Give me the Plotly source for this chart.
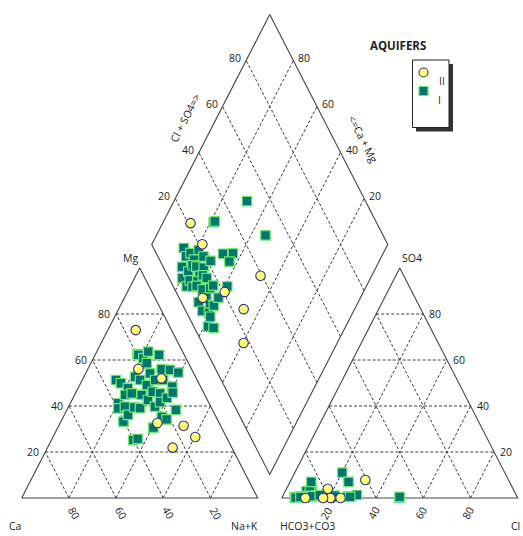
import plotly.graph_objects as go

# ---- sample chemistry (meq %) -------------------------------------------
# Aquifer I
mg_I = [51.3, 49.9, 62.6, 62.2, 41.2, 47.8, 60.7, 44.8, 39.0, 52.7, 63.6, 58.6, 45.5, 39.7,
        51.3, 33.2, 36.1, 62.2, 54.2, 39.4, 44.8, 49.1, 39.1, 51.3, 56.0, 42.6, 46.2, 51.3,
        25.2, 55.7, 45.5, 25.7, 39.7, 41.7, 54.5, 48.4, 43.5, 30.6, 45.8, 35.3, 34.2, 38.3]
nak_I = [14.3, 17.1, 17.7, 18.3, 20.3, 21.1, 21.2, 21.4, 21.4, 21.7, 21.8, 23.7, 23.9, 23.9,
         24.5, 26.5, 27.0, 27.1, 27.3, 28.0, 28.4, 28.5, 30.6, 30.9, 31.3, 32.2, 32.4, 34.3,
         34.7, 35.0, 35.9, 36.3, 36.6, 37.8, 39.1, 39.6, 39.8, 40.5, 41.1, 41.7, 44.3, 46.2]
so4_I = [1.0, 3.0, 0.5, 3.5, 0.3, 1.0, 0.8, 11.0, 0.5, 7.0, 1.2, 3.2, 0.2, 0.6,
         1.5, 0.4, 3.0, 1.0, 0.8, 0.5, 1.0, 0.8, 7.0, 0.0, 0.5, 0.6, 0.3, 1.0,
         0.5, 0.8, 0.2, 1.3, 0.5, 0.6, 0.3, 0.8, 1.2, 0.4, 1.0, 0.2, 0.4, 0.5]
cl_I = [11.8, 9.0, 7.5, 11.1, 5.4, 17.7, 13.8, 20.1, 9.1, 24.8, 11.6, 10.9, 5.5, 7.7,
        17.8, 7.7, 10.4, 16.0, 10.6, 9.5, 14.0, 20.6, 9.0, 49.8, 11.3, 27.6, 7.0, 14.2,
        11.1, 16.3, 6.8, 31.2, 28.7, 11.0, 9.1, 12.2, 15.5, 8.7, 21.9, 5.8, 7.7, 49.7]

# Aquifer II
mg_II = [73.0, 56.1, 52.0, 32.6, 31.4, 21.9, 26.5]
nak_II = [11.8, 21.4, 33.2, 41.2, 52.9, 53.0, 60.3]
so4_II = [0.0, 4.0, 0.0, 0.0, 7.8, 0.0, 0.0]
cl_II = [21.1, 17.5, 10.0, 20.6, 31.5, 24.9, 17.5]

GRID = [20, 40, 60, 80]

# ---- Piper geometry (triangle side = 100, triangle height = 100) ----------
GAP = 10.2
BX, BY = 100 + GAP / 2, GAP          # bottom vertex of the diamond


def cation_xy(mg, nak):
    return nak + mg / 2, mg


def anion_xy(so4, cl):
    return 100 + GAP + cl + so4 / 2, so4


def dpt(c, a):
    """c = (Ca+Mg) fraction, a = (Cl+SO4) fraction."""
    return BX + 50 * (a - c), BY + 100 * (a + c)


def diamond_xy(mg, nak, so4, cl):
    return dpt((100 - nak) / 100, (so4 + cl) / 100)


def project(mg, nak, so4, cl):
    xs, ys = [], []
    for m, n, s, c in zip(mg, nak, so4, cl):
        for x, y in (cation_xy(m, n), anion_xy(s, c), diamond_xy(m, n, s, c)):
            xs.append(x)
            ys.append(y)
    return xs, ys


def add_seg(xs, ys, p, q):
    xs += [p[0], q[0], None]
    ys += [p[1], q[1], None]


# outlines
ox, oy = [], []
for poly in (
    [cation_xy(0, 0), cation_xy(0, 100), cation_xy(100, 0), cation_xy(0, 0)],
    [anion_xy(0, 0), anion_xy(0, 100), anion_xy(100, 0), anion_xy(0, 0)],
    [dpt(0, 0), dpt(0, 1), dpt(1, 1), dpt(1, 0), dpt(0, 0)],
):
    ox += [p[0] for p in poly] + [None]
    oy += [p[1] for p in poly] + [None]

# dashed grid
gx, gy = [], []
for k in GRID:
    f = k / 100
    # cation triangle
    add_seg(gx, gy, cation_xy(k, 0), cation_xy(k, 100 - k))
    add_seg(gx, gy, cation_xy(0, k), cation_xy(100 - k, k))
    add_seg(gx, gy, cation_xy(0, 100 - k), cation_xy(100 - k, 0))
    # anion triangle
    add_seg(gx, gy, anion_xy(k, 0), anion_xy(k, 100 - k))
    add_seg(gx, gy, anion_xy(0, k), anion_xy(100 - k, k))
    add_seg(gx, gy, anion_xy(0, 100 - k), anion_xy(100 - k, 0))
    # diamond
    add_seg(gx, gy, dpt(0, f), dpt(1, f))
    add_seg(gx, gy, dpt(f, 0), dpt(f, 1))

fig = go.Figure()
fig.add_trace(go.Scatter(x=gx, y=gy, mode="lines", hoverinfo="skip",
                         line=dict(color="#3c3c3c", width=1, dash="3px,2px")))
fig.add_trace(go.Scatter(x=ox, y=oy, mode="lines", hoverinfo="skip",
                         line=dict(color="#444444", width=1.1)))

xi, yi = project(mg_I, nak_I, so4_I, cl_I)
fig.add_trace(go.Scatter(x=xi, y=yi, mode="markers", name="I",
                         marker=dict(symbol="square", size=9.5, color="#00776e",
                                     line=dict(color="#74e874", width=1.2))))
xii, yii = project(mg_II, nak_II, so4_II, cl_II)
fig.add_trace(go.Scatter(x=xii, y=yii, mode="markers", name="II",
                         marker=dict(symbol="circle", size=9.5, color="#ffff72",
                                     line=dict(color="#30308f", width=1.1))))

FONT = dict(family="Open Sans", size=10.5, color="#222222")
ann = []


def label(text, pos, **kw):
    d = dict(x=pos[0], y=pos[1], xref="x", yref="y", text=text, showarrow=False, font=FONT)
    d.update(kw)
    ann.append(d)


for k in GRID:
    f = k / 100
    label(str(k), cation_xy(k, 0), xanchor="right", xshift=-4)
    label(str(k), anion_xy(k, 100 - k), xanchor="left", xshift=4)
    label(str(k), dpt(1, f), xanchor="right", xshift=-3, yshift=3)
    label(str(k), dpt(f, 1), xanchor="left", xshift=3, yshift=3)
    label(str(100 - k), cation_xy(0, k), textangle=60, xshift=5, yshift=-15)
    label(str(k), anion_xy(0, k), textangle=-60, xshift=-2.5, yshift=-15)

label("Ca", cation_xy(0, 0), xshift=-7, yshift=-28)
label("Na+K", cation_xy(0, 100), xshift=-13, yshift=-28)
label("Mg", cation_xy(100, 0), xanchor="right", yshift=10)
label("HCO3+CO3", anion_xy(0, 0), xshift=26, yshift=-28)
label("Cl", anion_xy(0, 100), xanchor="right", xshift=4, yshift=-28)
label("SO4", anion_xy(100, 0), xanchor="left", yshift=10)
mid_l = dpt(1, 0.5)
label("Cl + SO4=>", mid_l, textangle=-63, xshift=-25.5, yshift=11.5)
mid_r = dpt(0.5, 1)
label("<=Ca + Mg", mid_r, textangle=63, xshift=34.5, yshift=-9)

# legend panel
W, H = 523, 536


def px(x):
    return x / W


def py(y):
    return 1 - y / H


ann.append(dict(x=px(428), y=py(36), xref="paper", yref="paper", text="<b>AQUIFERS</b>",
                showarrow=False, font=dict(family="Open Sans", size=11.5, color="#222222")))
ann.append(dict(x=px(437), y=py(72.5), xref="paper", yref="paper", text="II", xanchor="left",
                showarrow=False, font=FONT))
ann.append(dict(x=px(436), y=py(91), xref="paper", yref="paper", text="I", xanchor="left",
                showarrow=False, font=FONT))

shapes = [
    dict(type="rect", xref="paper", yref="paper", x0=px(416), x1=px(453), y0=py(131.5), y1=py(64),
         fillcolor="#333333", line=dict(width=0)),
    dict(type="rect", xref="paper", yref="paper", x0=px(412.5), x1=px(449), y0=py(127.5), y1=py(60),
         fillcolor="white", line=dict(color="#222222", width=1)),
    dict(type="circle", xref="paper", yref="paper", x0=px(419), x1=px(428), y0=py(77), y1=py(68),
         fillcolor="#ffff72", line=dict(color="#30308f", width=1.1)),
    dict(type="rect", xref="paper", yref="paper", x0=px(419), x1=px(428), y0=py(95.5), y1=py(86.5),
         fillcolor="#00776e", line=dict(color="#74e874", width=1.2)),
]

fig.update_layout(
    width=W, height=H, autosize=False,
    margin=dict(l=0, r=0, t=0, b=0),
    paper_bgcolor="white", plot_bgcolor="white",
    showlegend=False,
    xaxis=dict(range=[-21.7 / 2.36, (W - 21.7) / 2.36], visible=False, fixedrange=True),
    yaxis=dict(range=[(498 - H) / 2.30, 498 / 2.30], visible=False, fixedrange=True),
    annotations=ann, shapes=shapes,
)

fig.write_html("out.html")
